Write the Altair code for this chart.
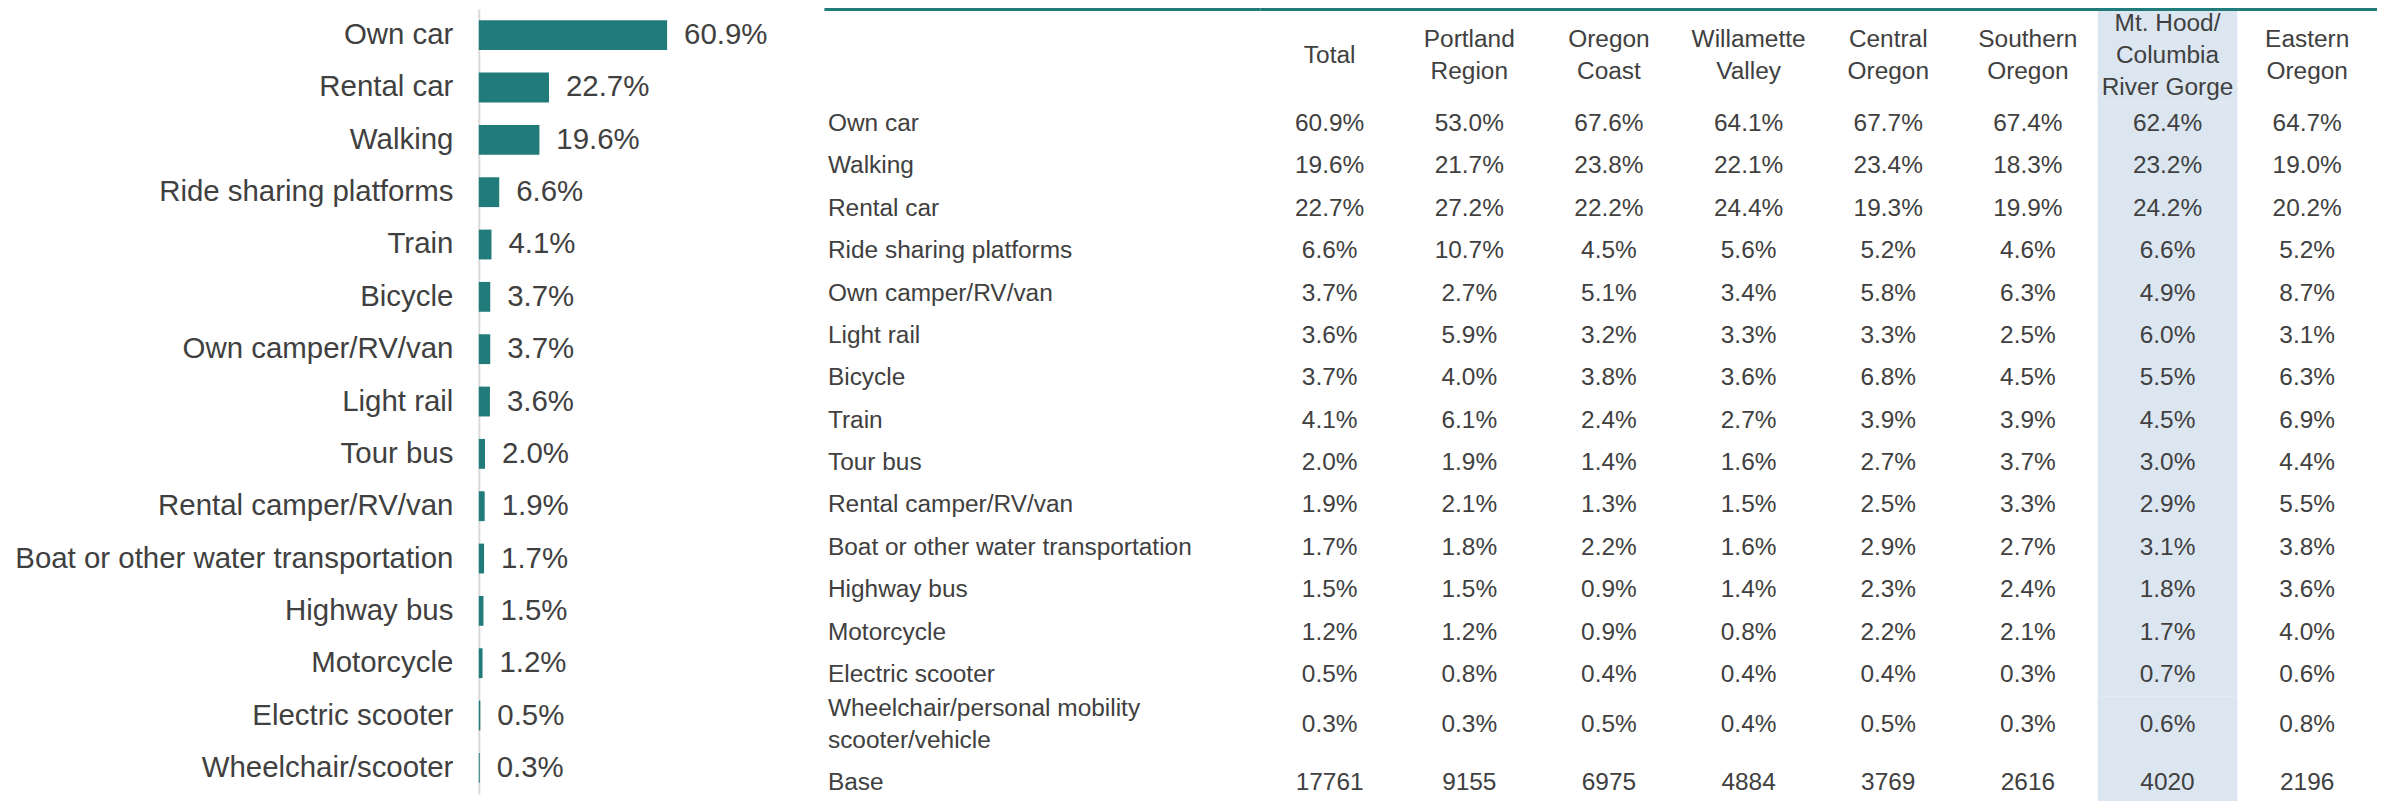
import altair as alt
import pandas as pd

FONT = "Liberation Sans"
TEXT = "#404040"
TEAL = "#217B7B"
BAND = "#DCE6F1"
AXIS_GREY = "#D9D9D9"

# ---------------- left bar chart data ----------------
bar_modes = [
    "Own car", "Rental car", "Walking", "Ride sharing platforms", "Train",
    "Bicycle", "Own camper/RV/van", "Light rail", "Tour bus",
    "Rental camper/RV/van", "Boat or other water transportation",
    "Highway bus", "Motorcycle", "Electric scooter", "Wheelchair/scooter",
]
bar_values = [60.9, 22.7, 19.6, 6.6, 4.1, 3.7, 3.7, 3.6, 2.0, 1.9, 1.7, 1.5, 1.2, 0.5, 0.3]

# ---------------- table data ----------------
columns = [
    "Total", "Portland Region", "Oregon Coast", "Willamette Valley",
    "Central Oregon", "Southern Oregon", "Mt. Hood/Columbia River Gorge",
    "Eastern Oregon",
]
header_text = [
    "Total", "Portland\nRegion", "Oregon\nCoast", "Willamette\nValley",
    "Central\nOregon", "Southern\nOregon", "Mt. Hood/\nColumbia\nRiver Gorge",
    "Eastern\nOregon",
]
highlight_columns = ["Mt. Hood/Columbia River Gorge"]

row_modes = [
    "Own car", "Walking", "Rental car", "Ride sharing platforms",
    "Own camper/RV/van", "Light rail", "Bicycle", "Train", "Tour bus",
    "Rental camper/RV/van", "Boat or other water transportation",
    "Highway bus", "Motorcycle", "Electric scooter",
]
total = [60.9, 19.6, 22.7, 6.6, 3.7, 3.6, 3.7, 4.1, 2.0, 1.9, 1.7, 1.5, 1.2, 0.5]
portland = [53.0, 21.7, 27.2, 10.7, 2.7, 5.9, 4.0, 6.1, 1.9, 2.1, 1.8, 1.5, 1.2, 0.8]
coast = [67.6, 23.8, 22.2, 4.5, 5.1, 3.2, 3.8, 2.4, 1.4, 1.3, 2.2, 0.9, 0.9, 0.4]
willamette = [64.1, 22.1, 24.4, 5.6, 3.4, 3.3, 3.6, 2.7, 1.6, 1.5, 1.6, 1.4, 0.8, 0.4]
central = [67.7, 23.4, 19.3, 5.2, 5.8, 3.3, 6.8, 3.9, 2.7, 2.5, 2.9, 2.3, 2.2, 0.4]
southern = [67.4, 18.3, 19.9, 4.6, 6.3, 2.5, 4.5, 3.9, 3.7, 3.3, 2.7, 2.4, 2.1, 0.3]
mthood = [62.4, 23.2, 24.2, 6.6, 4.9, 6.0, 5.5, 4.5, 3.0, 2.9, 3.1, 1.8, 1.7, 0.7]
eastern = [64.7, 19.0, 20.2, 5.2, 8.7, 3.1, 6.3, 6.9, 4.4, 5.5, 3.8, 3.6, 4.0, 0.6]

wheel_key = "Wheelchair/personal mobility scooter/vehicle"
wheel_display = "Wheelchair/personal mobility\nscooter/vehicle"
wheel_values = [0.3, 0.3, 0.5, 0.4, 0.5, 0.3, 0.6, 0.8]
base_values = [17761, 9155, 6975, 4884, 3769, 2616, 4020, 2196]

# ---------------- build tables ----------------
df_bar = pd.DataFrame({"mode": bar_modes, "value": bar_values})
df_bar["label"] = [f"{v:.1f}%" for v in bar_values]

series = [total, portland, coast, willamette, central, southern, mthood, eastern]
main_records = []
for ci, col in enumerate(columns):
    for ri, row in enumerate(row_modes):
        main_records.append({"row": row, "column": col, "label": f"{series[ci][ri]:.1f}%"})
df_main = pd.DataFrame(main_records)
df_main_labels = pd.DataFrame({"row": row_modes})

foot_rows = [wheel_key, "Base"]
foot_records = []
for ci, col in enumerate(columns):
    foot_records.append({"row": wheel_key, "column": col, "label": f"{wheel_values[ci]:.1f}%"})
    foot_records.append({"row": "Base", "column": col, "label": f"{base_values[ci]}"})
df_foot = pd.DataFrame(foot_records)
df_foot_labels = pd.DataFrame({"row": foot_rows, "display": [wheel_display, "Base"]})
df_foot_labels["lines"] = [t.count("\n") + 1 for t in df_foot_labels["display"]]

df_header = pd.DataFrame({"column": columns, "header": header_text})
df_header["lines"] = [t.count("\n") + 1 for t in header_text]
df_hl = pd.DataFrame({"column": highlight_columns})

# ---------------- sizes ----------------
LEFT_W, LEFT_H = 310, 787
LABEL_W = 437
VAL_W = 1120
HEAD_H = 94
MAIN_H = 595
FOOT_H = 116
TABLE_FS = 24.5
BAR_FS = 29.5
LINE_H = 32

# ---------------- left bar chart ----------------
y_bar = alt.Y(
    "mode:N", sort=bar_modes,
    scale=alt.Scale(paddingInner=0.43, paddingOuter=0.215),
    axis=alt.Axis(
        title=None, ticks=False, labelPadding=26, labelFontSize=BAR_FS,
        labelColor=TEXT, labelFont=FONT, labelLimit=0,
        domainColor=AXIS_GREY, domainWidth=2, grid=False,
    ),
)
bar_base = alt.Chart(df_bar).encode(y=y_bar)
bars = bar_base.mark_bar(color=TEAL).encode(
    x=alt.X("value:Q", scale=alt.Scale(domain=[0, 100]), axis=None)
)
bar_labels = bar_base.mark_text(
    align="left", baseline="middle", dx=17, fontSize=BAR_FS, color=TEXT
).encode(x="value:Q", text="label:N")
left = alt.layer(bars, bar_labels).properties(width=LEFT_W, height=LEFT_H)

# ---------------- table ----------------
teal_axis = alt.Axis(
    orient="top", labels=False, ticks=False, title=None, grid=False,
    domainColor=TEAL, domainWidth=3,
)


def col_x(axis):
    return alt.X(
        "column:N", sort=columns,
        scale=alt.Scale(type="band", domain=columns, paddingInner=0, paddingOuter=0),
        axis=axis,
    )


def label_x(axis):
    return alt.XDatum(0, type="quantitative", scale=alt.Scale(domain=[0, 1]), axis=axis)


def row_y(domain):
    return alt.Y(
        "row:N", sort=domain,
        scale=alt.Scale(type="band", domain=domain, paddingInner=0, paddingOuter=0),
        axis=None,
    )


# header section
lab_head = alt.Chart(pd.DataFrame({"t": [""]})).mark_text(fontSize=TABLE_FS).encode(
    x=label_x(teal_axis), text="t:N"
).properties(width=LABEL_W, height=HEAD_H)

hl_head = alt.Chart(df_hl).mark_rect(color=BAND).encode(x=col_x(teal_axis))
head_layers = [hl_head]
for n in (1, 2, 3):
    head_layers.append(
        alt.Chart(df_header).transform_filter(alt.datum.lines == n).mark_text(
            fontSize=TABLE_FS, color=TEXT, lineBreak="\n", lineHeight=LINE_H,
            baseline="middle", dy=-(n - 1) * LINE_H / 2,
        ).encode(x=col_x(teal_axis), text="header:N")
    )
val_head = alt.layer(*head_layers).properties(width=VAL_W, height=HEAD_H)

# main rows
lab_main = alt.Chart(df_main_labels).mark_text(
    align="left", baseline="middle", dx=4, fontSize=TABLE_FS, color=TEXT
).encode(x=label_x(None), y=row_y(row_modes), text="row:N").properties(
    width=LABEL_W, height=MAIN_H
)
hl_main = alt.Chart(df_hl).mark_rect(color=BAND).encode(x=col_x(None))
main_text = alt.Chart(df_main).mark_text(
    baseline="middle", fontSize=TABLE_FS, color=TEXT
).encode(x=col_x(None), y=row_y(row_modes), text="label:N")
val_main = alt.layer(hl_main, main_text).properties(width=VAL_W, height=MAIN_H)

# footer rows
foot_label_layers = []
for n in (1, 2):
    foot_label_layers.append(
        alt.Chart(df_foot_labels).transform_filter(alt.datum.lines == n).mark_text(
            align="left", baseline="middle", dx=4, dy=-(n - 1) * LINE_H / 2,
            fontSize=TABLE_FS, color=TEXT, lineBreak="\n", lineHeight=LINE_H,
        ).encode(x=label_x(None), y=row_y(foot_rows), text="display:N")
    )
lab_foot = alt.layer(*foot_label_layers).properties(width=LABEL_W, height=FOOT_H)

hl_foot = alt.Chart(df_hl).mark_rect(color=BAND).encode(x=col_x(None))
foot_text = alt.Chart(df_foot).mark_text(
    baseline="middle", fontSize=TABLE_FS, color=TEXT
).encode(x=col_x(None), y=row_y(foot_rows), text="label:N")
val_foot = alt.layer(hl_foot, foot_text).properties(width=VAL_W, height=FOOT_H)

table = alt.vconcat(
    alt.hconcat(lab_head, val_head, spacing=0),
    alt.hconcat(lab_main, val_main, spacing=0),
    alt.hconcat(lab_foot, val_foot, spacing=0),
    spacing=0,
)

chart = (
    alt.hconcat(left, table, spacing=36)
    .configure(padding={"left": 6, "top": 0, "right": 0, "bottom": 0}, font=FONT)
    .configure_view(stroke=None)
)

chart.save("out.html", embed_options={"renderer": "svg", "actions": False})
